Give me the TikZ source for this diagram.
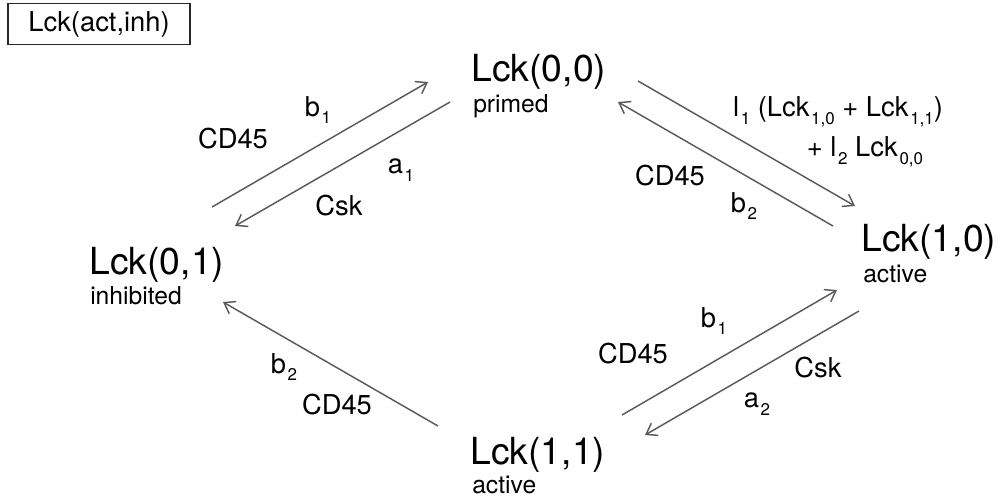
\documentclass[tikz,border=0pt]{standalone}
\usepackage{fontspec}
\usepackage{graphicx}
\setmainfont{TeX Gyre Heros}
\usetikzlibrary{arrows.meta}
\newcommand\lsub[1]{\kern0.06em\raisebox{-0.55ex}{\scalebox{0.62}{#1}}}
\definecolor{arrowgray}{HTML}{5A5A5A}
\begin{document}
\begin{tikzpicture}[x=0.75pt,y=-0.75pt,
  big/.style={font=\fontsize{28pt}{28pt}\selectfont, inner sep=0pt, anchor=base west},
  sublbl/.style={font=\fontsize{18.5pt}{18.5pt}\selectfont, inner sep=0pt, anchor=base west},
  elbl/.style={font=\fontsize{20.5pt}{20.5pt}\selectfont, inner sep=0pt},
  trans/.style={draw=arrowgray, line width=1.1pt, -{Straight Barb[length=7.5pt,width=10.5pt,line width=1.1pt]}}]
\useasboundingbox (0,0) rectangle (1002,501);
% key box
\node[draw=black!85, line width=0.8pt, minimum width=136.5pt, minimum height=31pt, inner sep=0pt,
      font=\fontsize{20.5pt}{20.5pt}\selectfont] (key) at (99,24) {Lck(act,inh)};
% states
\node[big] (n00) at (471,81) {Lck(0,0)};
\node[sublbl] (n00s) at (473,112) {primed};
\node[big] (n10) at (861,251) {Lck(1,0)};
\node[sublbl] (n10s) at (863,282) {active};
\node[big] (n01) at (89,274) {Lck(0,1)};
\node[sublbl] (n01s) at (90,304) {inhibited};
\node[big] (n11) at (470,464) {Lck(1,1)};
\node[sublbl] (n11s) at (472,493) {active};
% arrow end points
\coordinate (p1s) at (212,207); \coordinate (p1e) at (428,82);
\coordinate (p2s) at (450,102); \coordinate (p2e) at (235,226);
\coordinate (p3s) at (638,81);  \coordinate (p3e) at (855,206);
\coordinate (p4s) at (833,226); \coordinate (p4e) at (618,102);
\coordinate (p5s) at (622,415); \coordinate (p5e) at (837,290);
\coordinate (p6s) at (859,311); \coordinate (p6e) at (645,435);
\coordinate (p7s) at (438,426); \coordinate (p7e) at (223,302);
\draw[trans] (p1s) -- (p1e);
\draw[trans] (p2s) -- (p2e);
\draw[trans] (p3s) -- (p3e);
\draw[trans] (p4s) -- (p4e);
\draw[trans] (p5s) -- (p5e);
\draw[trans] (p6s) -- (p6e);
\draw[trans] (p7s) -- (p7e);
% labels upper left
\node[elbl] (l1) at (318,110) {b\lsub{1}};
\node[elbl] (l2) at (233,139) {CD45};
\node[elbl] (l3) at (401,170) {a\lsub{1}};
\node[elbl] (l4) at (339,206) {Csk};
% labels upper right
\node[elbl] (l5) at (838,112) {l\lsub{1} (Lck\lsub{1,0} + Lck\lsub{1,1})};
\node[elbl] (l6) at (865,152) {+ l\lsub{2} Lck\lsub{0,0}};
\node[elbl] (l7) at (670,176) {CD45};
\node[elbl] (l8) at (744,206) {b\lsub{2}};
% labels lower right
\node[elbl] (l9) at (714,321) {b\lsub{1}};
\node[elbl] (l10) at (633,354) {CD45};
\node[elbl] (l11) at (818,368) {Csk};
\node[elbl] (l12) at (757,404) {a\lsub{2}};
% labels lower left
\node[elbl] (l13) at (284,367) {b\lsub{2}};
\node[elbl] (l14) at (337,405) {CD45};
\end{tikzpicture}
\end{document}
